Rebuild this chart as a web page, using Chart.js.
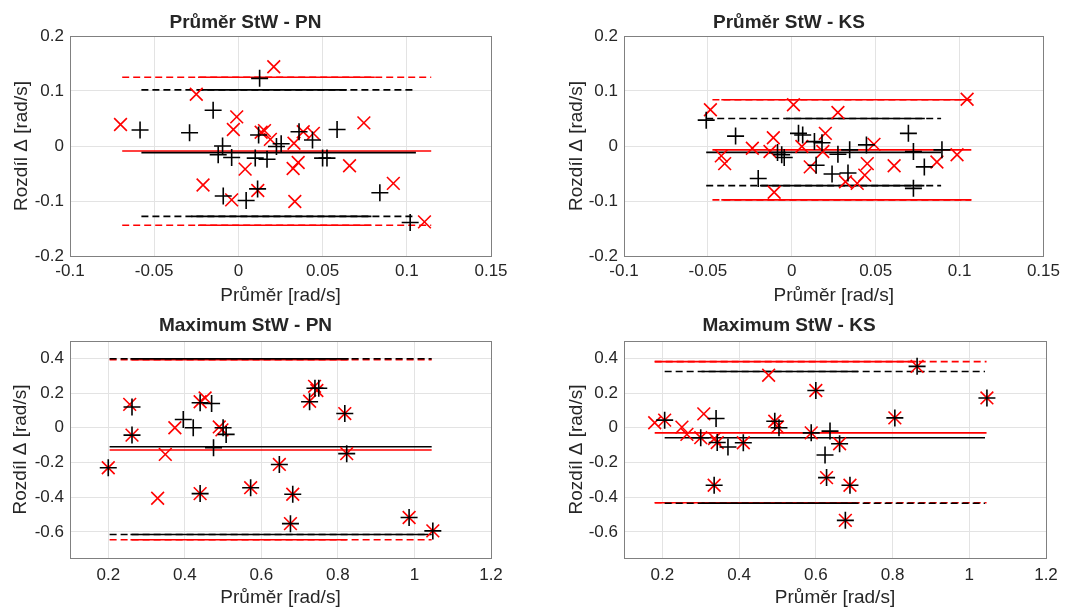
<!DOCTYPE html>
<html>
<head>
<meta charset="utf-8">
<script src="https://cdn.jsdelivr.net/npm/chart.js@4.4.1/dist/chart.umd.min.js"></script>
<style>
  body { margin: 0; background: #fff; overflow: hidden; width: 1065px; height: 607px; position: relative; }
  canvas { position: absolute; }
</style>
</head>
<body>
<canvas id="c1" width="532" height="310" style="left:0;top:0"></canvas>
<canvas id="c2" width="533" height="310" style="left:532px;top:0"></canvas>
<canvas id="c3" width="532" height="303" style="left:0;top:306px"></canvas>
<canvas id="c4" width="533" height="303" style="left:532px;top:306px"></canvas>
<script>
const titles = ['Průměr StW - PN', 'Průměr StW - KS', 'Maximum StW - PN', 'Maximum StW - KS'];
const xLabel = 'Průměr [rad/s]';
const yLabel = 'Rozdíl Δ [rad/s]';

const xTicksAvg = [-0.1, -0.05, 0, 0.05, 0.1, 0.15];
const yTicksAvg = [-0.2, -0.1, 0, 0.1, 0.2];
const xTicksMax = [0.2, 0.4, 0.6, 0.8, 1, 1.2];
const yTicksMax = [-0.6, -0.4, -0.2, 0, 0.2, 0.4];
const xRangeAvg = [-0.1, 0.15];
const yRangeAvg = [-0.2, 0.2];
const xRangeMax = [0.1, 1.2];
const yRangeMax = [-0.75, 0.5];

// Průměr StW - PN
const p1RedX = [-0.070, -0.025, -0.001, -0.003, 0.021, 0.0135, 0.0155, 0.019, -0.021, -0.004, 0.004, 0.0115, 0.0325, 0.033, 0.0355, 0.0335, 0.0385, 0.0445, 0.066, 0.0745, 0.092, 0.1105];
const p1RedY = [0.039, 0.094, 0.053, 0.030, 0.144, 0.025, 0.028, 0.012, -0.071, -0.098, -0.042, -0.081, -0.041, 0.005, -0.030, -0.101, 0.026, 0.023, -0.036, 0.042, -0.068, -0.138];
const p1BlackX = [-0.0584, -0.029, -0.015, 0.0126, -0.0094, -0.012, -0.004, 0.010, 0.017, 0.012, 0.0226, 0.0254, -0.009, 0.0046, 0.0114, 0.036, 0.044, 0.050, 0.0526, 0.0586, 0.084, 0.102];
const p1BlackY = [0.029, 0.024, 0.065, 0.123, 0.000, -0.016, -0.021, -0.022, -0.024, 0.020, -0.001, 0.004, -0.091, -0.099, -0.078, 0.026, 0.011, -0.022, -0.022, 0.030, -0.085, -0.139];
// [mean, upper, lower]
const p1RedLines = [-0.009, 0.125, -0.144];
const p1RedSpan = [-0.069, 0.1145];
const p1RedSolid = [[-0.024, 0.081], [-0.024, 0.079]];
const p1BlackLines = [-0.012, 0.102, -0.128];
const p1BlackSpan = [-0.0576, 0.1054];
const p1BlackSolid = [[-0.024, 0.0643], [-0.028, 0.079]];

// Průměr StW - KS
const p2RedX = [-0.0485, -0.042, -0.040, -0.0235, -0.011, -0.013, -0.0105, 0.001, 0.006, 0.011, 0.020, 0.0185, 0.0275, 0.032, 0.039, 0.0435, 0.045, 0.049, 0.061, 0.0865, 0.0985, 0.1045];
const p2RedY = [0.066, -0.018, -0.032, -0.004, 0.015, -0.010, -0.084, 0.075, -0.001, -0.038, 0.023, -0.010, 0.061, -0.065, -0.068, -0.053, -0.032, 0.003, -0.036, -0.029, -0.016, 0.085];
const p2BlackX = [-0.051, -0.0335, -0.020, -0.0085, -0.006, -0.0045, 0.004, 0.0065, 0.0135, 0.018, 0.0145, 0.024, 0.0275, 0.0335, 0.0345, 0.0445, 0.0695, 0.0725, 0.0725, 0.079, 0.0895];
const p2BlackY = [0.047, 0.018, -0.059, -0.012, -0.016, -0.021, 0.023, 0.020, 0.008, 0.006, -0.035, -0.051, -0.015, -0.049, -0.007, 0.002, 0.023, -0.010, -0.077, -0.038, -0.007];
const p2RedLines = [-0.007, 0.084, -0.098];
const p2RedSpan = [-0.0473, 0.107];
const p2RedSolid = [[-0.042, 0.107], [-0.042, 0.107]];
const p2BlackLines = [-0.0116, 0.050, -0.072];
const p2BlackSpan = [-0.051, 0.089];
const p2BlackSolid = [[-0.0035, 0.0793], [-0.019, 0.079]];

// Maximum StW - PN
const p3RedX = [0.200, 0.256, 0.262, 0.440, 0.453, 0.440, 0.490, 0.497, 0.572, 0.647, 0.676, 0.682, 0.726, 0.739, 0.745, 0.818, 0.823, 0.986, 1.048, 0.374, 0.349, 0.329];
const p3RedY = [-0.230, 0.135, -0.042, 0.150, 0.172, -0.379, 0.005, -0.012, -0.345, -0.211, -0.552, -0.383, 0.153, 0.239, 0.215, 0.082, -0.149, -0.517, -0.594, 0.000, -0.153, -0.406];
const p3BlackX = [0.200, 0.262, 0.262, 0.440, 0.470, 0.440, 0.500, 0.508, 0.572, 0.647, 0.676, 0.682, 0.726, 0.740, 0.750, 0.818, 0.823, 0.986, 1.048, 0.396, 0.422, 0.475];
const p3BlackY = [-0.230, 0.120, -0.042, 0.144, 0.140, -0.379, 0.000, -0.038, -0.345, -0.211, -0.552, -0.383, 0.150, 0.228, 0.228, 0.082, -0.149, -0.517, -0.594, 0.048, 0.000, -0.115];
const p3RedLines = [-0.128, 0.393, -0.645];
const p3RedSpan = [0.2035, 1.045];
const p3RedSolid = [[0.258, 0.828], [0.258, 0.823]];
const p3BlackLines = [-0.109, 0.398, -0.615];
const p3BlackSpan = [0.2035, 1.045];
const p3BlackSolid = [[0.258, 0.828], [0.258, 1.036]];

// Maximum StW - KS
const p4RedX = [0.180, 0.251, 0.264, 0.308, 0.477, 0.206, 0.300, 0.336, 0.343, 0.335, 0.411, 0.493, 0.500, 0.588, 0.600, 0.628, 0.662, 0.677, 0.689, 0.806, 0.864, 1.046];
const p4RedY = [0.029, 0.004, -0.038, 0.080, 0.303, 0.044, -0.057, -0.062, -0.085, -0.331, -0.086, 0.038, 0.005, -0.029, 0.215, -0.287, -0.092, -0.533, -0.331, 0.057, 0.354, 0.172];
const p4BlackX = [0.206, 0.300, 0.343, 0.340, 0.371, 0.335, 0.411, 0.493, 0.504, 0.588, 0.600, 0.637, 0.624, 0.628, 0.662, 0.677, 0.689, 0.806, 0.864, 1.046];
const p4BlackY = [0.044, -0.057, -0.085, 0.054, -0.111, -0.331, -0.086, 0.038, 0.000, -0.029, 0.215, -0.019, -0.157, -0.287, -0.092, -0.533, -0.331, 0.057, 0.354, 0.172];
const p4RedLines = [-0.029, 0.381, -0.432];
const p4RedSpan = [0.180, 1.045];
const p4RedSolid = [[0.180, 0.8626], [0.180, 0.706]];
const p4BlackLines = [-0.057, 0.324, -0.435];
const p4BlackSpan = [0.206, 1.041];
const p4BlackSolid = [[0.302, 0.710], [0.302, 0.706]];

const RED = 'rgb(255,0,0)';
const BLACK = 'rgb(0,0,0)';
const TXT = '#262626';
const FONT = "'Liberation Sans', Arial, sans-serif";

function pts(xs, ys) {
  return xs.map((x, i) => ({ x: x, y: ys[i] }));
}

function seg(x0, x1, y, color, dash, order) {
  return {
    type: 'line',
    data: [{ x: x0, y: y }, { x: x1, y: y }],
    borderColor: color,
    borderWidth: 1.6,
    borderDash: dash,
    pointRadius: 0,
    showLine: true,
    order: order
  };
}

function limitLines(lines, span, solid, color, order) {
  return [
    seg(span[0], span[1], lines[0], color, [], order),
    seg(span[0], span[1], lines[1], color, [7, 4], order),
    seg(solid[0][0], solid[0][1], lines[1], color, [], order),
    seg(span[0], span[1], lines[2], color, [7, 4], order),
    seg(solid[1][0], solid[1][1], lines[2], color, [], order)
  ];
}

const boxPlugin = {
  id: 'box',
  beforeDatasetsDraw(chart) {
    const a = chart.chartArea, ctx = chart.ctx;
    ctx.save();
    ctx.strokeStyle = '#808080';
    ctx.lineWidth = 1;
    ctx.strokeRect(Math.round(a.left) + 0.5, Math.round(a.top) + 0.5, Math.round(a.right - a.left), Math.round(a.bottom - a.top));
    ctx.restore();
  }
};

function fmt(v) {
  return String(Number(v.toFixed(3)));
}

function makePanel(id, title, red, black, redL, blackL, xr, yr, xt, yt, lay) {
  const datasets = [
    { type: 'scatter', data: black, pointStyle: 'cross', pointRadius: 8.5, borderColor: BLACK, borderWidth: 1.6, backgroundColor: BLACK, order: 0 },
    { type: 'scatter', data: red, pointStyle: 'crossRot', pointRadius: 9, borderColor: RED, borderWidth: 1.6, backgroundColor: RED, order: 1 }
  ].concat(blackL, redL);

  new Chart(document.getElementById(id), {
    type: 'scatter',
    data: { datasets: datasets },
    plugins: [boxPlugin],
    options: {
      responsive: false,
      animation: false,
      devicePixelRatio: 1,
      layout: { padding: { left: 0, right: lay.right, top: 0, bottom: 0 } },
      plugins: {
        legend: { display: false },
        tooltip: { enabled: false },
        title: {
          display: true,
          text: title,
          color: TXT,
          font: { family: FONT, size: 19, weight: 'bold', lineHeight: 1.2 },
          padding: { top: lay.titleTop, bottom: lay.titleBottom }
        }
      },
      scales: {
        x: {
          type: 'linear',
          min: xr[0], max: xr[1],
          afterBuildTicks: s => { s.ticks = xt.map(v => ({ value: v })); },
          afterFit: s => { s.height = lay.xHeight; },
          ticks: { color: TXT, font: { family: FONT, size: 17 }, padding: lay.xTickPad, maxRotation: 0, autoSkip: false, callback: v => fmt(v) },
          grid: { color: '#e3e3e3', drawTicks: false },
          border: { display: false },
          title: { display: true, text: xLabel, color: TXT, font: { family: FONT, size: 19, lineHeight: 1.2 }, padding: { top: 0, bottom: lay.xTitleBottom } }
        },
        y: {
          type: 'linear',
          min: yr[0], max: yr[1],
          afterBuildTicks: s => { s.ticks = yt.map(v => ({ value: v })); },
          afterFit: s => { s.width = lay.yWidth; },
          ticks: { color: TXT, font: { family: FONT, size: 17 }, padding: 6, autoSkip: false, callback: v => fmt(v) },
          grid: { color: '#e3e3e3', drawTicks: false },
          border: { display: false },
          title: { display: true, text: yLabel, color: TXT, font: { family: FONT, size: 19, lineHeight: 1.2 }, padding: { top: lay.yTitleLeft, bottom: 0 } }
        }
      }
    }
  });
}

const layTopL = { right: 41, titleTop: 11.6, titleBottom: 1.6, xHeight: 54, xTickPad: 5, xTitleBottom: 2.6, yWidth: 70, yTitleLeft: 10.6 };
const layTopR = { right: 19, titleTop: 11.6, titleBottom: 1.6, xHeight: 54, xTickPad: 5, xTitleBottom: 2.6, yWidth: 92, yTitleLeft: 33.6 };
const layBotL = { right: 41, titleTop: 7.9, titleBottom: 4.3, xHeight: 51, xTickPad: 6.8, xTitleBottom: 0.1, yWidth: 70, yTitleLeft: 9.6 };
const layBotR = { right: 19, titleTop: 7.9, titleBottom: 4.3, xHeight: 51, xTickPad: 6.8, xTitleBottom: 0.1, yWidth: 92, yTitleLeft: 33.6 };

makePanel('c1', titles[0], pts(p1RedX, p1RedY), pts(p1BlackX, p1BlackY),
  limitLines(p1RedLines, p1RedSpan, p1RedSolid, RED, 3), limitLines(p1BlackLines, p1BlackSpan, p1BlackSolid, BLACK, 2),
  xRangeAvg, yRangeAvg, xTicksAvg, yTicksAvg, layTopL);
makePanel('c2', titles[1], pts(p2RedX, p2RedY), pts(p2BlackX, p2BlackY),
  limitLines(p2RedLines, p2RedSpan, p2RedSolid, RED, 3), limitLines(p2BlackLines, p2BlackSpan, p2BlackSolid, BLACK, 2),
  xRangeAvg, yRangeAvg, xTicksAvg, yTicksAvg, layTopR);
makePanel('c3', titles[2], pts(p3RedX, p3RedY), pts(p3BlackX, p3BlackY),
  limitLines(p3RedLines, p3RedSpan, p3RedSolid, RED, 3), limitLines(p3BlackLines, p3BlackSpan, p3BlackSolid, BLACK, 2),
  xRangeMax, yRangeMax, xTicksMax, yTicksMax, layBotL);
makePanel('c4', titles[3], pts(p4RedX, p4RedY), pts(p4BlackX, p4BlackY),
  limitLines(p4RedLines, p4RedSpan, p4RedSolid, RED, 3), limitLines(p4BlackLines, p4BlackSpan, p4BlackSolid, BLACK, 2),
  xRangeMax, yRangeMax, xTicksMax, yTicksMax, layBotR);
</script>
</body>
</html>
